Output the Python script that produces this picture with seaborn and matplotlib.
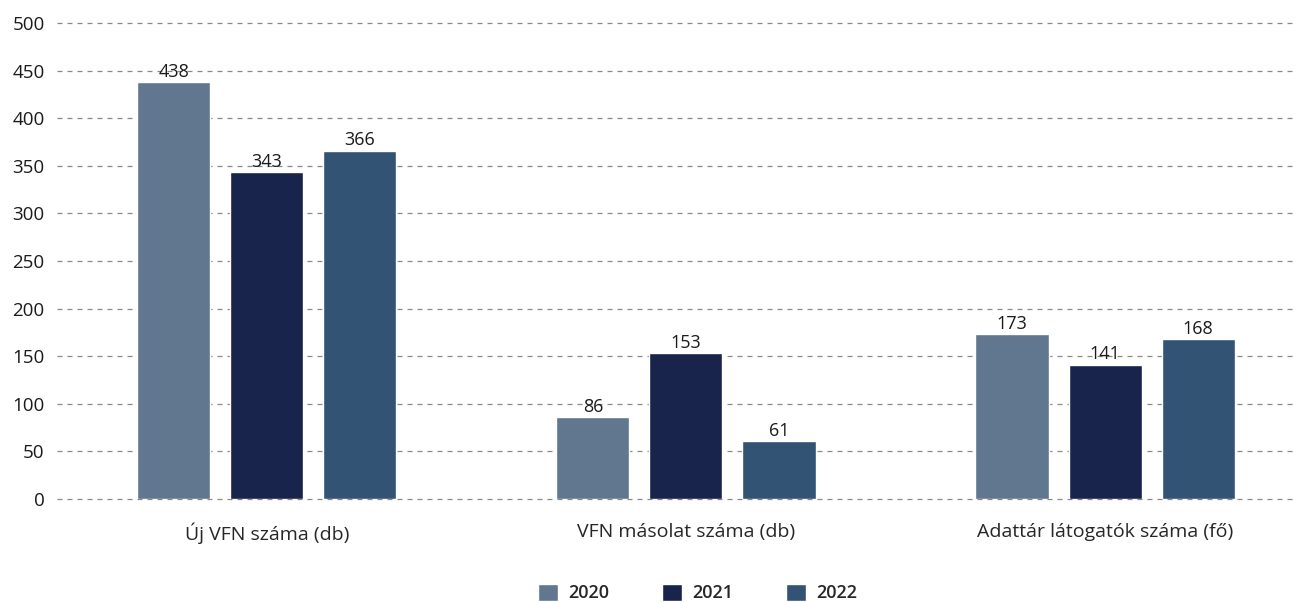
import seaborn as sns
import matplotlib.pyplot as plt
import pandas as pd

# values
categories = ["Új VFN száma (db)", "VFN másolat száma (db)", "Adattár látogatók száma (fő)"]
years = ["2020", "2021", "2022"]
v2020 = [438, 86, 173]
v2021 = [343, 153, 141]
v2022 = [366, 61, 168]
colors = ["#60778f", "#18244c", "#325373"]
yticks = [0, 50, 100, 150, 200, 250, 300, 350, 400, 450, 500]

rows = []
for yr, vals in zip(years, [v2020, v2021, v2022]):
    for cat, v in zip(categories, vals):
        rows.append({"cat": cat, "year": yr, "value": v})
df = pd.DataFrame(rows)

sns.set_style("white")
plt.rcParams['font.family'] = ['Open Sans', 'DejaVu Sans']

fig = plt.figure(figsize=(12.94, 6.02), dpi=100)
ax = fig.add_axes([57 / 1294, 1 - 499 / 602, 1 - 57 / 1294, (499 - 23) / 602])

sns.barplot(data=df, x="cat", y="value", hue="year", palette=colors,
            width=0.666, gap=0.215, order=categories, hue_order=years,
            saturation=1, ax=ax, legend=True, zorder=3)

for c in ax.containers:
    ax.bar_label(c, fontsize=13, padding=1, color="#1a1a1a")

ax.set_ylim(0, 500)
ax.set_xlim(-0.501, 2.451)
ax.set_yticks(yticks)
ax.set_yticklabels([str(t) for t in yticks], fontsize=13.5, color="#1a1a1a")
ax.yaxis.grid(True, linestyle=(0, (4, 4)), color="#888888", linewidth=0.9, zorder=0)
for gl in ax.get_ygridlines():
    gl.set_clip_on(False)
ax.set_axisbelow(True)
ax.tick_params(axis="both", length=0)
ax.tick_params(axis="x", pad=17, labelsize=14)
ax.tick_params(axis="y", pad=9)
ax.set_xlabel("")
ax.set_ylabel("")
sns.despine(ax=ax, left=True, bottom=True)

leg = ax.legend(loc="upper center", bbox_to_anchor=(0.518, -0.155), ncol=3,
                frameon=False, fontsize=13, handlelength=1.1, handleheight=1.1,
                columnspacing=2.9, handletextpad=0.6, borderaxespad=0.2)
for t in leg.get_texts():
    t.set_fontweight("semibold")

fig.savefig("out.png", dpi=100)
